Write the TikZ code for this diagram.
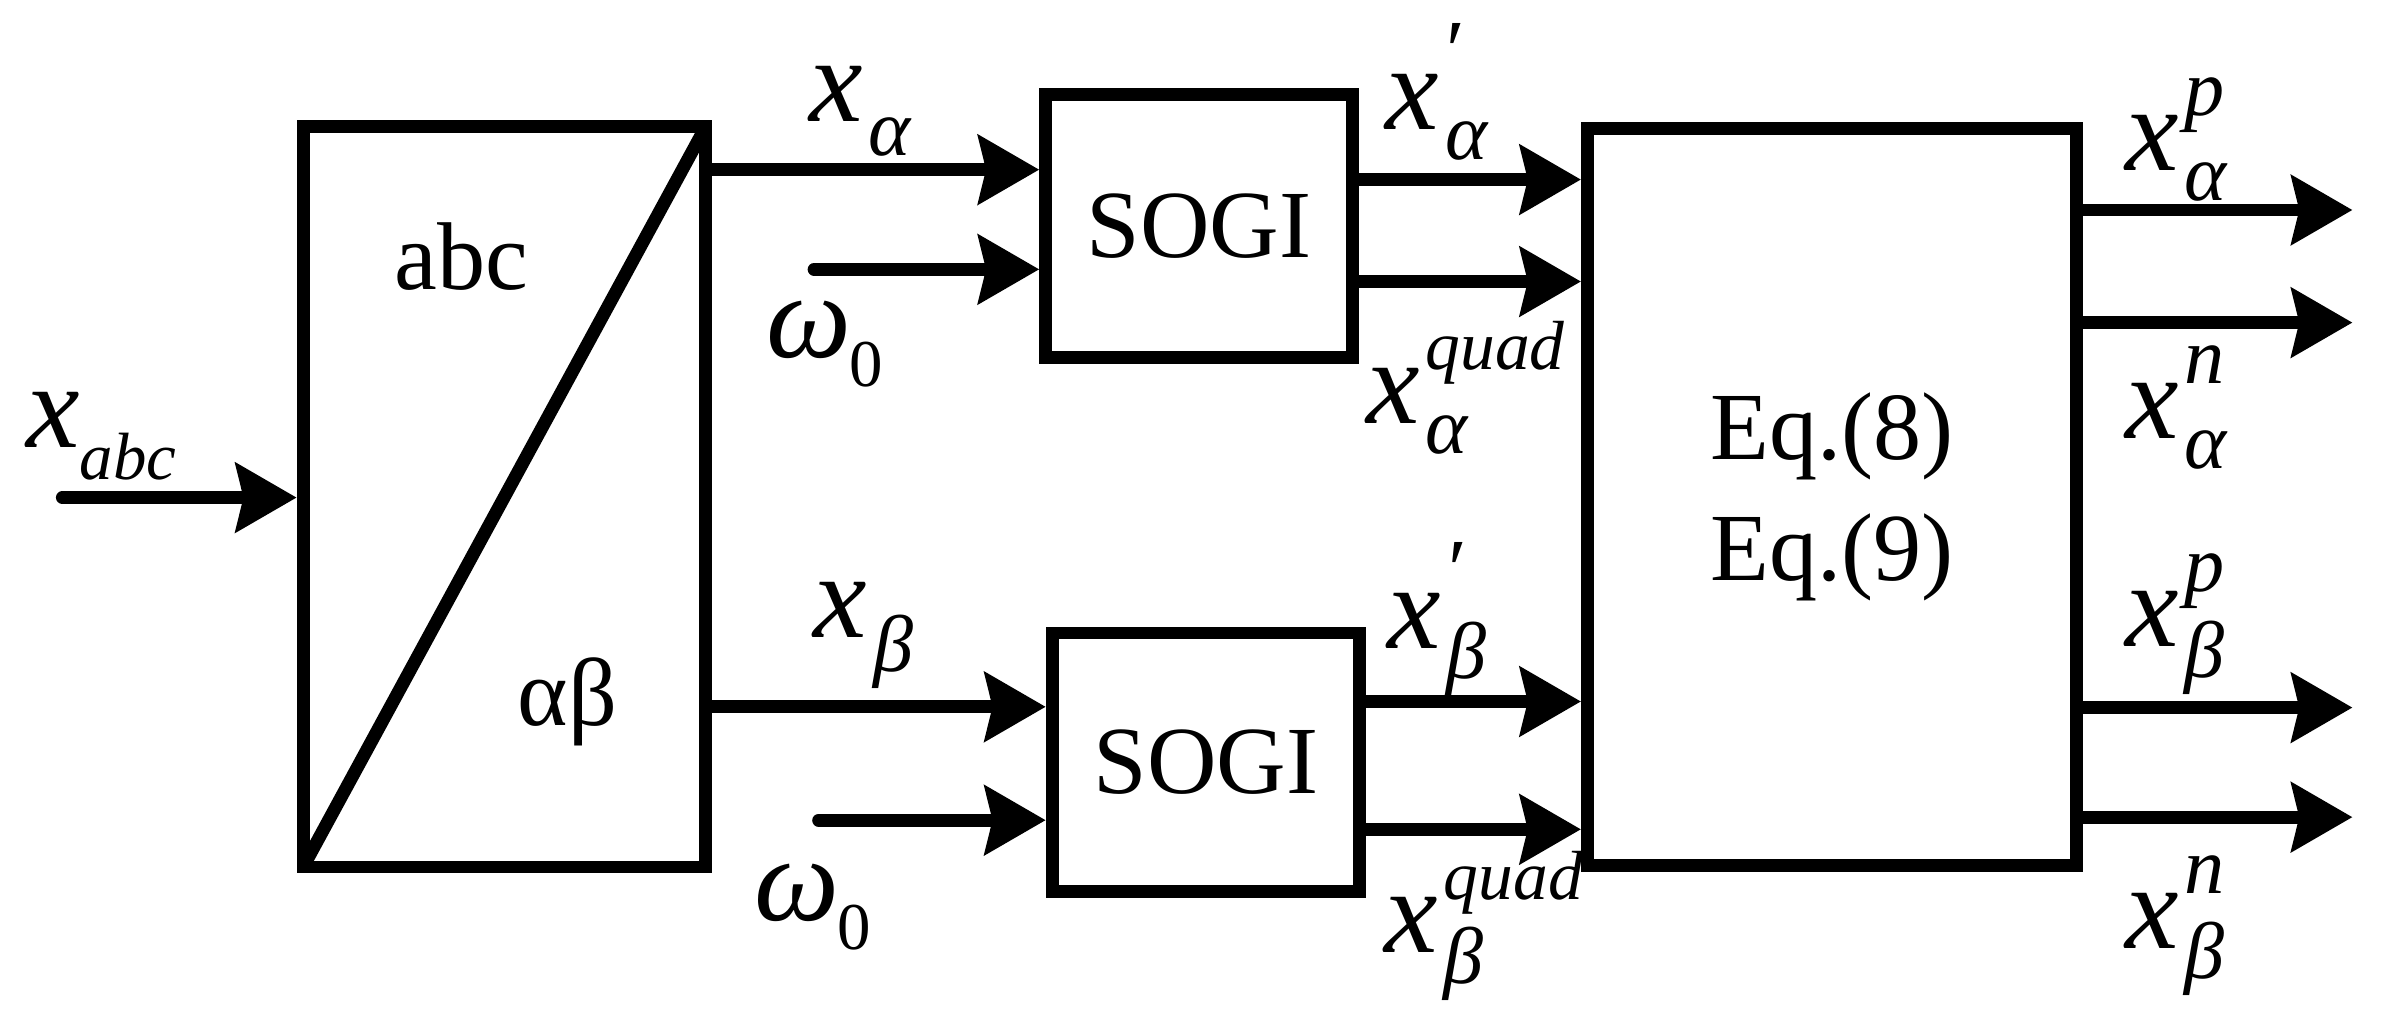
\documentclass[tikz,border=0pt]{standalone}
\usepackage{fontspec}
\setmainfont{Liberation Serif}
\usetikzlibrary{arrows.meta,calc}
\newcommand\fX{\fontsize{22.5}{22.5}\selectfont\itshape}
\newcommand\fS{\fontsize{15}{15}\selectfont\itshape}
\newcommand\fQ{\fontsize{13}{13}\selectfont\itshape}
\newcommand\fZ{\fontsize{12.5}{12.5}\selectfont\upshape}
\newcommand\fP{{\fontsize{16}{16}\selectfont\upshape ′}}
\newcommand\xsb[1]{{\fX x}\kern0.4mm\raisebox{-2.2mm}{\fS #1}}
\newcommand\xsp[3]{{\fX x}\kern0.4mm\rlap{\raisebox{#3}{#2}}\raisebox{-2mm}{\fS #1}}
\newcommand\wz{{\fX ω}\kern-0.1mm\raisebox{-1.9mm}{\fZ 0}}
\begin{document}
\begin{tikzpicture}[x=0.1mm,y=-0.1mm,
  box/.style={draw,line width=0.85mm,inner sep=0pt},
  arr/.style={line width=0.85mm,line cap=round,-{Stealth[length=4mm,width=4.5mm,inset=0.5mm]}},
  txt/.style={inner sep=0pt,anchor=base,font=\fontsize{18}{18}\selectfont},
  lab/.style={inner sep=0pt,anchor=base west}]
\useasboundingbox (0,0) rectangle (1568,672);

% blocks
\node[box,minimum width=26.45mm,minimum height=48.65mm] (T) at (331.5,326.5) {};
\node[box,minimum width=20.15mm,minimum height=17.25mm,font=\fontsize{18}{18}\selectfont] (S1) at (788,148.5) {SOGI};
\node[box,minimum width=20.2mm,minimum height=17mm,font=\fontsize{18}{18}\selectfont] (S2) at (792.5,501) {SOGI};
\node[box,minimum width=32.15mm,minimum height=48.45mm,align=center,font=\fontsize{18}{22.7}\selectfont] (E) at (1204,326.5) {Eq.(8)\\Eq.(9)};

\draw[line width=0.85mm] ($(T.south west)+(4.25,-4.25)$) -- ($(T.north east)+(-4.25,4.25)$);
\node[txt] (abc) at (303,190) {abc};
\node[txt] (ab) at (373,477) {αβ};

% level coordinates
\coordinate (in) at (41,327);
\coordinate (ya) at (0,111.5);
\coordinate (w1) at (535,177);
\coordinate (yb) at (0,464.5);
\coordinate (w2) at (538,539);
\coordinate (s1a) at (0,118);
\coordinate (s1b) at (0,185);
\coordinate (s2a) at (0,461);
\coordinate (s2b) at (0,545);
\coordinate (o1) at (1546,138);
\coordinate (o2) at (1546,212);
\coordinate (o3) at (1546,465);
\coordinate (o4) at (1546,537);

% connectors
\draw[arr] (in) -- (in -| T.west);
\draw[arr] (T.east |- ya) -- (S1.west |- ya);
\draw[arr] (w1) -- (w1 -| S1.west);
\draw[arr] (T.east |- yb) -- (S2.west |- yb);
\draw[arr] (w2) -- (w2 -| S2.west);
\draw[arr] (S1.east |- s1a) -- (E.west |- s1a);
\draw[arr] (S1.east |- s1b) -- (E.west |- s1b);
\draw[arr] (S2.east |- s2a) -- (E.west |- s2a);
\draw[arr] (S2.east |- s2b) -- (E.west |- s2b);
\draw[arr] (E.east |- o1) -- (o1);
\draw[arr] (E.east |- o2) -- (o2);
\draw[arr] (E.east |- o3) -- (o3);
\draw[arr] (E.east |- o4) -- (o4);

% labels
\node[lab] (Lxabc) at (16.5,294) {{\fX x}\raisebox{-2.1mm}{\fontsize{12.5}{12.5}\selectfont\itshape abc}};
\node[lab] (Lxa) at (531,80) {\xsb{α}};
\node[lab] (Lw1) at (503,235) {\wz};
\node[lab] (Lxb) at (534,419) {\xsb{β}};
\node[lab] (Lw2) at (495,605) {\wz};
\node[lab] (Lxa1) at (910,85) {\xsp{α}{\kern0.1mm\fP}{3.3mm}};
\node[lab] (Lxaq) at (897,278) {\xsp{α}{\fQ quad}{3.5mm}};
\node[lab] (Lxb1) at (911,426) {\xsp{β}{\kern0.1mm\fP}{3.3mm}};
\node[lab] (Lxbq) at (909,626) {\xsp{β}{\fQ quad}{3.5mm}};
\node[lab] (Lxpa) at (1396,112) {\xsp{α}{\fS p}{3.6mm}};
\node[lab] (Lxna) at (1396,288) {\xsp{α}{\fS n}{3.6mm}};
\node[lab] (Lxpb) at (1396,425) {\xsp{β}{\fS p}{3.6mm}};
\node[lab] (Lxnb) at (1396,623) {\xsp{β}{\fS n}{3.6mm}};
\end{tikzpicture}
\end{document}
